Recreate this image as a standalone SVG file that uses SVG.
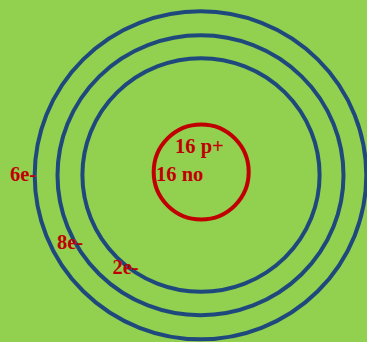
<svg xmlns="http://www.w3.org/2000/svg" width="367" height="342" viewBox="0 0 367 342">
<style>
.shell{fill:none;stroke:#1F497D;stroke-width:4}
.nuc{fill:none;stroke:#C00000;stroke-width:4}
.lbl{font-family:"Liberation Serif","Times New Roman",serif;font-weight:bold;font-size:20.5px;fill:#C00000}
</style>
<rect x="0" y="0" width="367" height="342" fill="#92D050"/>
<g id="shells">
<g id="shell3"><ellipse class="shell" cx="200.5" cy="175.3" rx="165.8" ry="164"/></g>
<g id="shell2"><ellipse class="shell" cx="200.5" cy="175.3" rx="143" ry="140"/></g>
<g id="shell1"><ellipse class="shell" cx="201" cy="175" rx="118.6" ry="116.8"/></g>
</g>
<g id="nucleus">
<circle class="nuc" cx="201.2" cy="172" r="47.5"/>
<text class="lbl" x="175" y="153">16 p+</text>
<text class="lbl" x="156" y="181">16 no</text>
</g>
<g id="labels">
<text class="lbl" x="10" y="181">6e-</text>
<text class="lbl" x="57" y="249">8e-</text>
<text class="lbl" x="112.5" y="274">2e-</text>
</g>
</svg>
